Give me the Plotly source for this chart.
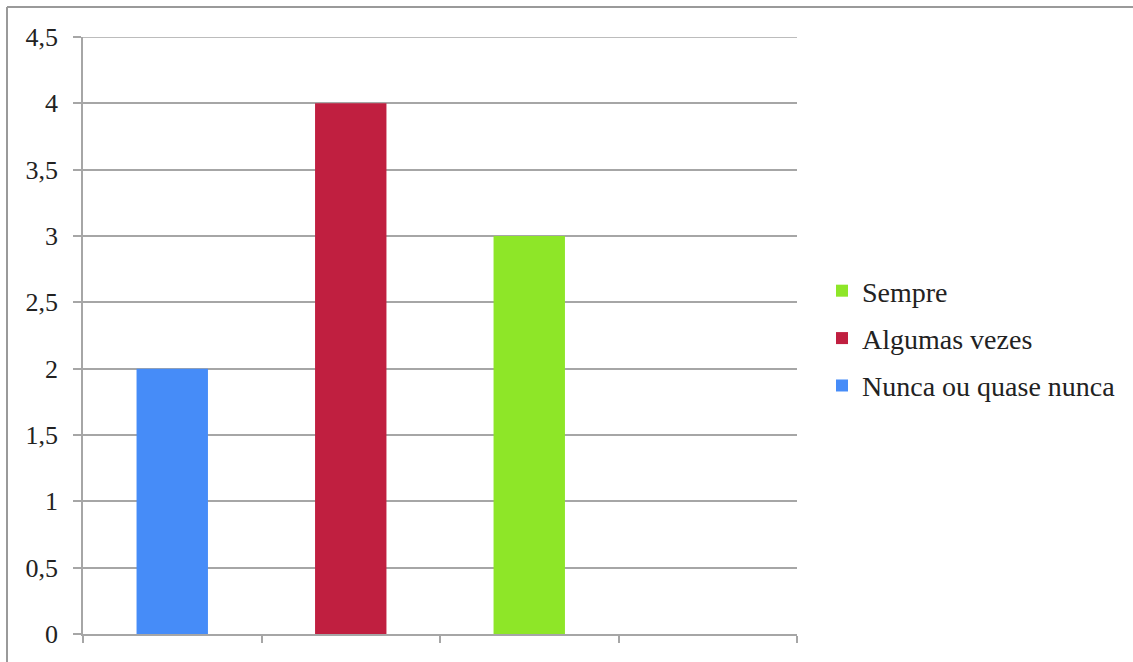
import plotly.graph_objects as go

# Survey responses, one bar per answer category
series_names = ["Nunca ou quase nunca", "Algumas vezes", "Sempre"]
series_values = [2, 4, 3]
series_colors = ["#468cf8", "#c01f40", "#8ee628"]
category_positions = [0, 1, 2]
y_ticks = [0, 0.5, 1, 1.5, 2, 2.5, 3, 3.5, 4, 4.5]

FONT = "Liberation Serif"
GRID = "#a6a6a6"

fig = go.Figure()
for i, (name, val, col) in enumerate(zip(series_names, series_values, series_colors)):
    fig.add_trace(go.Bar(
        x=[category_positions[i]], y=[val], name=name,
        marker=dict(color=col, line=dict(width=0)),
        width=0.4, legendgroup=name,
        legendrank=len(series_names) - i,  # last series listed first
    ))

fig.update_layout(
    width=1133, height=662,
    margin=dict(l=83, r=336, t=37, b=28),
    paper_bgcolor="white", plot_bgcolor="white",
    barmode="overlay",
    separators=",.",
    font=dict(family=FONT, size=26, color="#222222"),
    showlegend=True,
    legend=dict(
        x=(822 - 83) / 714, y=0.495, xanchor="left", yanchor="middle",
        traceorder="grouped", tracegroupgap=8,
        font=dict(family=FONT, size=28, color="#222222"),
        itemwidth=30,
    ),
    xaxis=dict(
        range=[-0.5, 3.5], tickmode="array",
        tickvals=[-0.5, 0.5, 1.5, 2.5, 3.5], showticklabels=False,
        ticks="outside", ticklen=7, tickcolor=GRID, tickwidth=1.5,
        showgrid=False, zeroline=False,
        showline=True, linecolor=GRID, linewidth=1.5,
    ),
    yaxis=dict(
        range=[0, 4.5], tickmode="array", tickvals=y_ticks,
        ticks="outside", ticklen=8, tickcolor=GRID, tickwidth=1.5,
        showgrid=True, gridcolor=GRID, gridwidth=1.5,
        zeroline=False, showline=True, linecolor=GRID, linewidth=1.5,
        ticklabelstandoff=10,
    ),
)

# Top gridline at the axis maximum
fig.add_shape(type="line", xref="paper", yref="y",
              x0=0, x1=1, y0=y_ticks[-1], y1=y_ticks[-1],
              line=dict(color=GRID, width=1.5))

# Chart frame (left and top edges visible)
fig.add_shape(type="line", xref="paper", yref="paper",
              x0=(7 - 83) / 714, x1=(7 - 83) / 714, y0=1 + 30 / 597, y1=-40 / 597,
              line=dict(color="#9a9a9a", width=2))
fig.add_shape(type="line", xref="paper", yref="paper",
              x0=(7 - 83) / 714, x1=(1140 - 83) / 714, y0=1 + 30 / 597, y1=1 + 30 / 597,
              line=dict(color="#9a9a9a", width=2))

fig.write_html("out.html")
